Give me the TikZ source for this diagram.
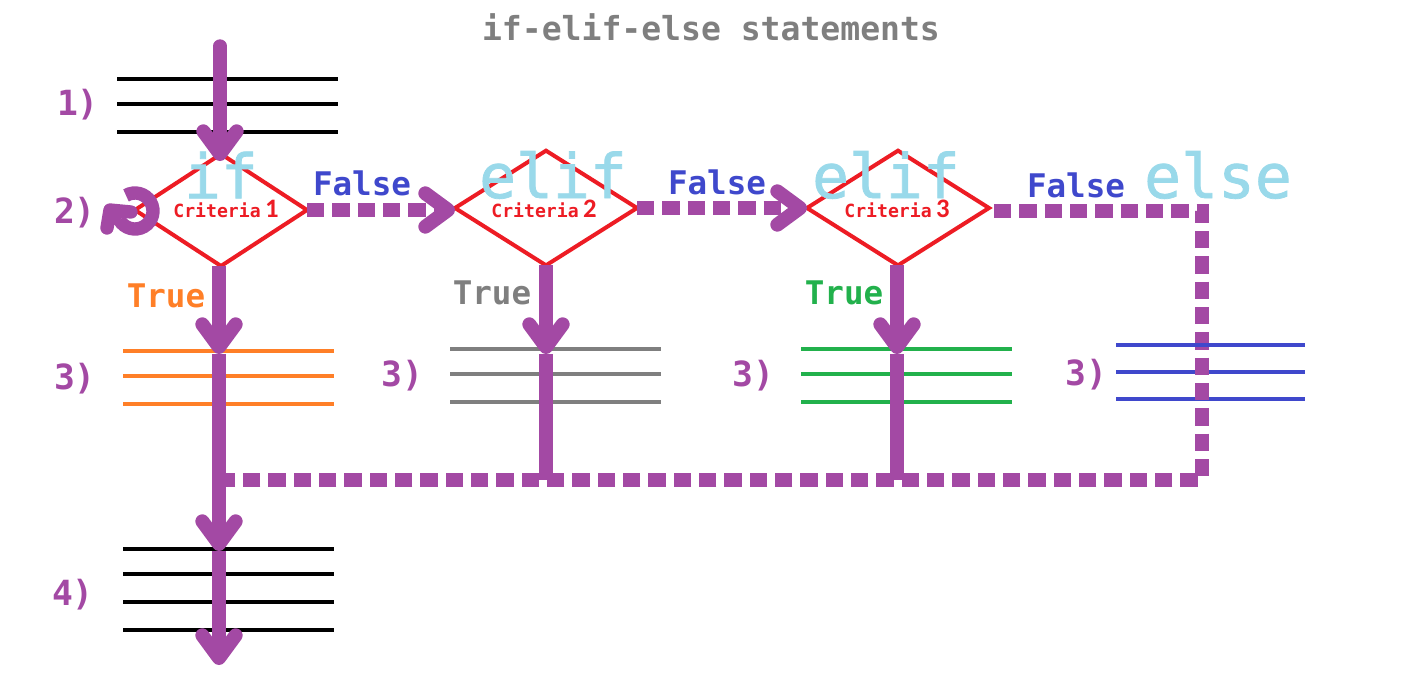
\documentclass[tikz,border=0pt]{standalone}
\usepackage{fontspec}
\usetikzlibrary{arrows.meta,shapes.geometric}
\setmainfont{DejaVu Sans Mono}
\newfontfamily\digitfont{Carlito}
\newfontfamily\kwfont[FakeBold=1.2]{DejaVu Sans Mono}
\definecolor{flowc}{HTML}{A349A4}
\definecolor{kwc}{HTML}{99D9EA}
\definecolor{redc}{HTML}{ED1C24}
\definecolor{bluec}{HTML}{3F48CC}
\definecolor{grayc}{HTML}{7F7F7F}
\definecolor{orangec}{HTML}{FF7F27}
\definecolor{greenc}{HTML}{22B14C}
\newcommand{\fsz}[1]{\fontsize{#1}{#1}\selectfont}
\newcommand{\crit}[1]{\fsz{13.6pt}\bfseries Criteria{\digitfont\fsz{20pt}\,\bfseries #1}}
\tikzset{
  x=0.75pt,y=-0.75pt,
  every node/.style={inner sep=0pt,outer sep=0pt},
  bar/.style={line width=3.7pt},
  flow/.style={draw=flowc,line width=10pt},
  vee/.style={-{Straight Barb[round,length=17pt,width=25pt,line width=10.5pt]}},
  dash pat/.style={dash pattern=on 13pt off 6pt},
  decision/.style={shape=diamond,draw=redc,line width=3pt,fill=white,minimum width=#1},
  keyword/.style={text=kwc,font=\fsz{46pt}\kwfont},
  falselab/.style={text=bluec,font=\fsz{24.4pt}\bfseries},
  truelab/.style={font=\fsz{24.4pt}\bfseries},
  steplab/.style={text=flowc,font=\fsz{26pt}\bfseries},
  crittext/.style={text=redc},
}
\begin{document}
\begin{tikzpicture}
\useasboundingbox[fill=white] (0,0) rectangle (1404,678);
% statement bars
\foreach \y in {79,104,132} \draw[bar,black] (117,\y) -- (338,\y);
\foreach \y in {351,376,404} \draw[bar,orangec] (123,\y) -- (334,\y);
\foreach \y in {349,374,402} \draw[bar,grayc] (450,\y) -- (661,\y);
\foreach \y in {349,374,402} \draw[bar,greenc] (801,\y) -- (1012,\y);
\foreach \y in {549,574,602,630} \draw[bar,black] (123,\y) -- (334,\y);
\foreach \y in {372,399} \draw[bar,bluec] (1116,\y) -- (1305,\y);
% decisions
\node[decision=129pt,minimum height=84pt] (d1) at (221,210) {};
\node[decision=136.5pt,minimum height=86pt] (d2) at (546,208) {};
\node[decision=136.5pt,minimum height=86pt] (d3) at (898,208) {};
% helper coordinates
\coordinate (start) at (220,46);
\coordinate (a1) at (220,161);
\coordinate (t1) at (219,354);
\coordinate (t2) at (546,354);
\coordinate (t3) at (897,354);
\coordinate (j1) at (546,480);
\coordinate (j2) at (897,480);
\coordinate (m1) at (219,551);
\coordinate (endd) at (219,665);
\coordinate (c0) at (990,211);
\coordinate (c1) at (1202,211);
\coordinate (c2) at (1202,480);
\coordinate (c3) at (225,480);
% keywords
\node[keyword] (kif) at (221,175) {if};
\node[keyword] (kel1) at (553,175) {elif};
\node[keyword] (kel2) at (886,175) {elif};
\node[keyword] (kels) at (1218,175) {else};
% criteria
\node[crittext] (c1t) at (226,209) {\crit{1}};
\node[crittext] (c2t) at (544,209) {\crit{2}};
\node[crittext] (c3t) at (897,209) {\crit{3}};
% labels
\node[text=grayc,font=\fsz{24.8pt}\bfseries] (title) at (711,27) {if-elif-else statements};
\node[falselab] (f1) at (362,183) {False};
\node[falselab] (f2) at (717,182) {False};
\node[falselab] (f3) at (1076,185) {False};
\node[truelab,text=orangec] (tr1) at (166,296) {True};
\node[truelab,text=grayc] (tr2) at (492,293) {True};
\node[truelab,text=greenc] (tr3) at (844,293) {True};
\node[steplab] (s1) at (78,105) {1)};
\node[steplab] (s2) at (75,213) {2)};
\node[steplab] (s3a) at (75,379) {3)};
\node[steplab] (s3b) at (402,376) {3)};
\node[steplab] (s3c) at (753,376) {3)};
\node[steplab] (s3d) at (1086,375) {3)};
\node[steplab] (s4) at (73,595) {4)};
% flow
\draw[flow,line cap=round,vee] (start) -- (a1);
\draw[flow,vee] (t1 |- d1.south) -- (t1);
\draw[flow,vee] (t1) -- (m1);
\draw[flow,vee] (m1) -- (endd);
\draw[flow,vee] (t2 |- d2.south) -- (t2);
\draw[flow] (t2) -- (j1);
\draw[flow,vee] (t3 |- d3.south) -- (t3);
\draw[flow] (t3) -- (j2);
\draw[flow,dash pat,vee] (d1.east) -- (d2.west |- d1.east);
\draw[flow,dash pat,vee] (d2.east) -- (d3.west);
\draw[flow,dash pat,dash phase=16pt,line join=miter] (c0) -- (c1) -- (c2) -- (c3);
% loop at criteria 1
\coordinate (loopc) at (135,211);
\draw[draw=flowc,line width=10pt] (loopc) ++(-120:18) arc[start angle=-120,end angle=150,radius=18];
\draw[draw=flowc,line width=10pt,line cap=round,line join=round] (107,228) -- (110,210) -- (131,212);
\draw[draw=flowc,line width=9pt] (119,221) -- (110,212);
% top blue bar lies over the dashes
\draw[bar,bluec] (1116,345) -- (1305,345);
\end{tikzpicture}
\end{document}
